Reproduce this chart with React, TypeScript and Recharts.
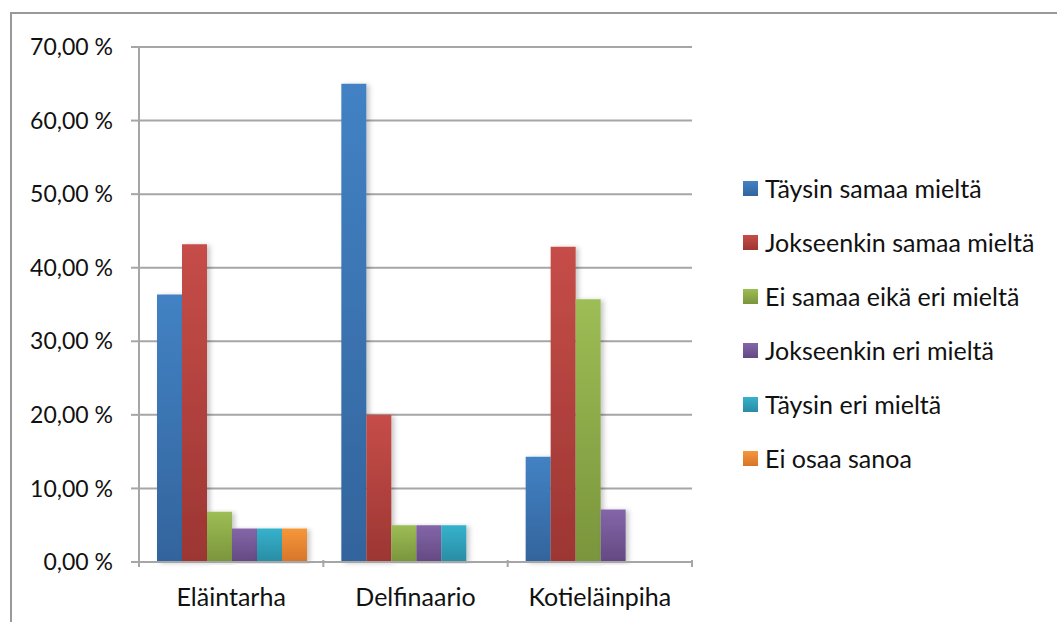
import React from "react";
import { BarChart, Bar, XAxis, YAxis, CartesianGrid } from "recharts";

const categories = ["Eläintarha", "Delfinaario", "Kotieläinpiha"];
const seriesNames = [
  "Täysin samaa mieltä",
  "Jokseenkin samaa mieltä",
  "Ei samaa eikä eri mieltä",
  "Jokseenkin eri mieltä",
  "Täysin eri mieltä",
  "Ei osaa sanoa",
];
const taysinSamaa = [36.36, 65.0, 14.29];
const jokseenkinSamaa = [43.18, 20.0, 42.86];
const eiSamaaEikaEri = [6.82, 5.0, 35.71];
const jokseenkinEri = [4.55, 5.0, 7.14];
const taysinEri = [4.55, 5.0, 0];
const eiOsaa = [4.55, 0, 0];
const yTicks = [0, 10, 20, 30, 40, 50, 60, 70];

const seriesValues = [taysinSamaa, jokseenkinSamaa, eiSamaaEikaEri, jokseenkinEri, taysinEri, eiOsaa];
const colors = [
  ["#4282c4", "#33649c"],
  ["#c64d48", "#9c3633"],
  ["#9dbd55", "#7a953c"],
  ["#8466a8", "#634983"],
  ["#35b2cc", "#2a8ca4"],
  ["#f7973a", "#d6752a"],
];

const data = categories.map((name, i) => {
  const row: Record<string, string | number> = { name };
  seriesNames.forEach((s, j) => {
    row[s] = seriesValues[j][i];
  });
  return row;
});

const FONT = "Lato, 'Open Sans', sans-serif";
const GRID = "#a6a6a6";

const CategoryTick = (props: any) => {
  const { x, y, payload, index, width, visibleTicksCount } = props;
  const n = visibleTicksCount || categories.length;
  const half = width / n / 2;
  const last = index === n - 1;
  return (
    <g>
      <line x1={x - half} x2={x - half} y1={y - 10} y2={y - 3} stroke={GRID} strokeWidth={2} />
      {last && <line x1={x + half} x2={x + half} y1={y - 10} y2={y - 3} stroke={GRID} strokeWidth={2} />}
      <text x={x} y={y + 36} textAnchor="middle" fontFamily={FONT} fontSize={25} fill="#111">
        {payload.value}
      </text>
    </g>
  );
};

const ChartLegend = () => (
  <div style={{ position: "absolute", left: 743, top: 161, fontFamily: FONT, fontSize: 25, color: "#111" }}>
    {seriesNames.map((s, i) => (
      <div key={s} style={{ display: "flex", alignItems: "center", height: 54, whiteSpace: "nowrap" }}>
        <span
          style={{
            display: "inline-block",
            width: 15,
            height: 15,
            marginRight: 7,
            background: `linear-gradient(${colors[i][0]}, ${colors[i][1]})`,
          }}
        />
        <span>{s}</span>
      </div>
    ))}
  </div>
);

export default function App() {
  return (
    <div style={{ position: "fixed", left: 0, top: 0, width: 1057, height: 622, background: "#fff", overflow: "hidden" }}>
      <div
        style={{
          position: "absolute",
          left: 10,
          top: 12,
          width: 1100,
          height: 700,
          borderTop: "2px solid #999",
          borderLeft: "2px solid #999",
        }}
      />
      <div style={{ position: "absolute", left: 0, top: 0 }}>
        <BarChart
          width={1057}
          height={622}
          data={data}
          margin={{ top: 47, right: 365, bottom: 20, left: 0 }}
          barCategoryGap={18}
          barGap={0}
        >
          <defs>
            {colors.map((c, i) => (
              <linearGradient key={i} id={`g${i}`} x1="0" y1="0" x2="0" y2="1">
                <stop offset="0%" stopColor={c[0]} />
                <stop offset="100%" stopColor={c[1]} />
              </linearGradient>
            ))}
            <filter id="shadow" x="-20%" y="-5%" width="160%" height="110%">
              <feDropShadow dx="3" dy="1" stdDeviation="2.5" floodColor="#000" floodOpacity="0.22" />
            </filter>
          </defs>
          <CartesianGrid vertical={false} stroke={GRID} strokeWidth={2} />
          <XAxis
            dataKey="name"
            height={40}
            axisLine={{ stroke: GRID, strokeWidth: 2 }}
            tickLine={false}
            tick={<CategoryTick />}
            interval={0}
          />
          <YAxis
            width={139}
            domain={[0, 70]}
            ticks={yTicks}
            interval={0}
            axisLine={{ stroke: GRID, strokeWidth: 2 }}
            tickLine={{ stroke: GRID, strokeWidth: 2 }}
            tickSize={8}
            tickMargin={18}
            tickFormatter={(v: number) => `${v.toFixed(2).replace(".", ",")} %`}
            tick={{ fontFamily: FONT, fontSize: 23, fill: "#111" }}
          />
          {seriesNames.map((s, i) => (
            <Bar
              key={s}
              dataKey={s}
              fill={`url(#g${i})`}
              filter="url(#shadow)"
              isAnimationActive={false}
            />
          ))}
        </BarChart>
      </div>
      <ChartLegend />
    </div>
  );
}
